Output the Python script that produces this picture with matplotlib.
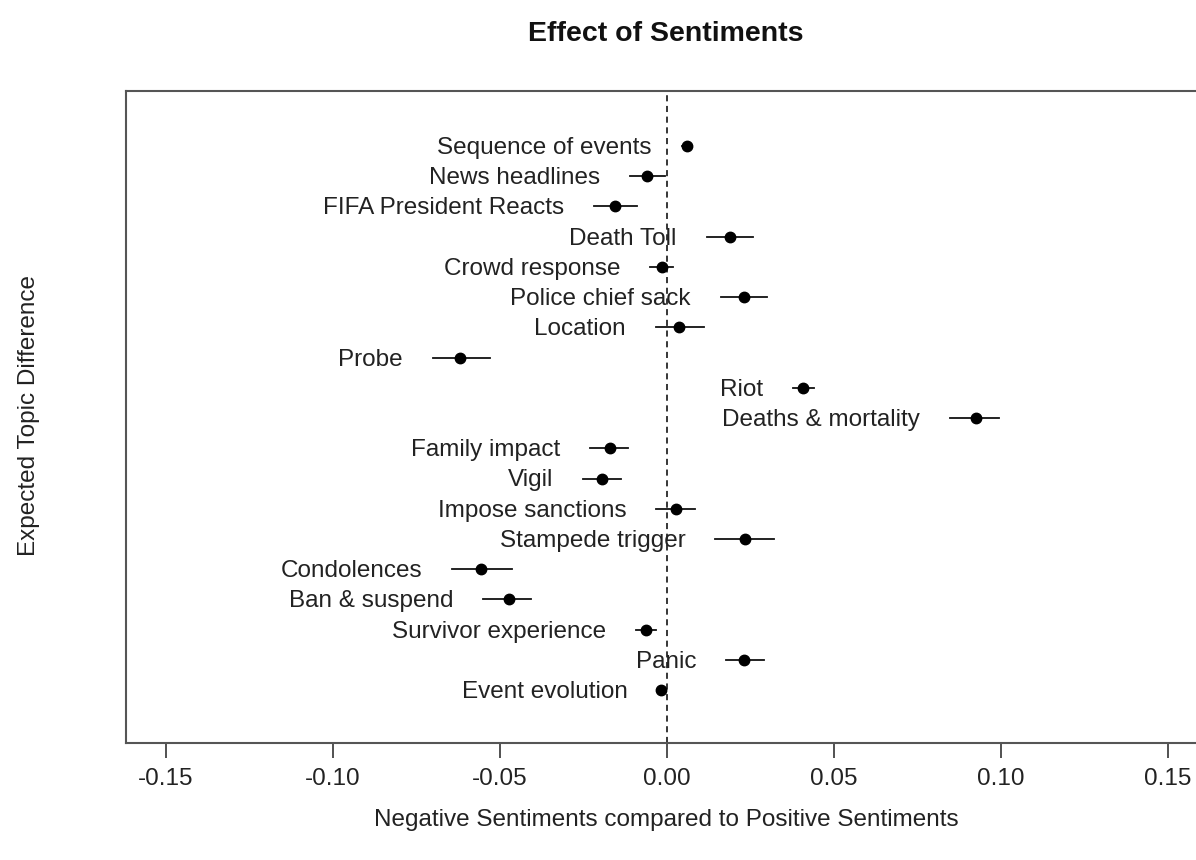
import matplotlib
matplotlib.use('Agg')
import matplotlib.pyplot as plt

plt.rcParams['font.family'] = ['Liberation Sans', 'DejaVu Sans']

topics = ['Sequence of events', 'News headlines', 'FIFA President Reacts', 'Death Toll',
          'Crowd response', 'Police chief sack', 'Location', 'Probe', 'Riot',
          'Deaths & mortality', 'Family impact', 'Vigil', 'Impose sanctions',
          'Stampede trigger', 'Condolences', 'Ban & suspend', 'Survivor experience',
          'Panic', 'Event evolution']
est = [0.0060, -0.0060, -0.0155, 0.0190, -0.0015, 0.0231, 0.0036, -0.0619, 0.0409,
       0.0925, -0.0170, -0.0194, 0.0027, 0.0233, -0.0555, -0.0473, -0.0063, 0.0231, -0.0018]
lower = [0.0045, -0.0110, -0.0218, 0.0120, -0.0050, 0.0162, -0.0032, -0.0700, 0.0379,
         0.0848, -0.0230, -0.0251, -0.0031, 0.0146, -0.0643, -0.0549, -0.0093, 0.0178, -0.0027]
upper = [0.0075, -0.0005, -0.0090, 0.0259, 0.0019, 0.0299, 0.0112, -0.0529, 0.0442,
         0.0996, -0.0116, -0.0138, 0.0085, 0.0322, -0.0463, -0.0405, -0.0031, 0.0290, -0.0005]
xticks = [-0.15, -0.10, -0.05, 0.00, 0.05, 0.10, 0.15]

fig = plt.figure(figsize=(11.96, 8.6), dpi=100)
ax = fig.add_axes([0.1054, 0.1360, 0.9038, 0.7582])

fs = 17.5
for i, name in enumerate(topics):
    ax.plot([lower[i], upper[i]], [i, i], color='#111111', lw=1.3)
    ax.plot(est[i], i, 'o', color='black', markersize=7.5)
    # label sits left of the lower CI end, like R's text(pos=2)
    ax.annotate(name, (lower[i], i), xytext=(-21.6, -1.4), textcoords='offset points',
                ha='right', va='center', fontsize=fs, color='#222222')

ax.axvline(0, color='black', lw=1.1, ls=(0, (4, 3)))

ax.set_xlim(-0.1619, 0.1618)
ax.set_ylim(18 + 1.75, -1.82)
ax.set_yticks([])
ax.set_xticks(xticks)
ax.set_xticklabels(['%.2f' % t for t in xticks])
ax.tick_params(axis='x', length=11, width=1.1, pad=7, labelsize=fs, colors='#222222')
for s in ['left', 'top', 'bottom']:
    ax.spines[s].set_color('#555555')
    ax.spines[s].set_linewidth(1.5)
ax.spines['right'].set_visible(False)

fig.text(0.557, 1 - 820 / 860, 'Negative Sentiments compared to Positive Sentiments',
         ha='center', va='center', fontsize=fs, color='#222222')
fig.text(0.024, 1 - 416 / 860, 'Expected Topic Difference', rotation=90, ha='center',
         va='center', fontsize=fs, color='#222222')
fig.text(0.557, 1 - 34 / 860, 'Effect of Sentiments', ha='center', va='center',
         fontsize=20.5, fontweight='bold', color='#111111')

fig.savefig('out.png', dpi=100)
